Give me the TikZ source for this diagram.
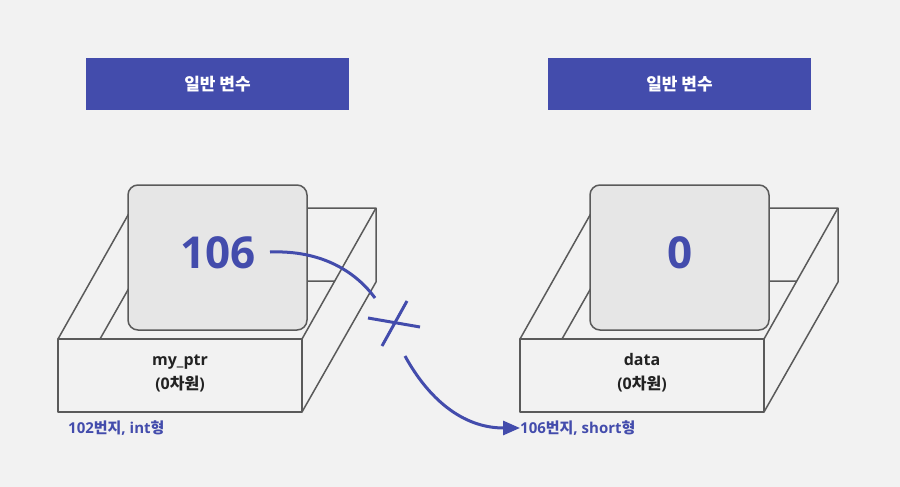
\documentclass[tikz,border=0pt]{standalone}
\usepackage{fontspec}
\setmainfont{Open Sans}
\newfontfamily\krfont{Noto Sans CJK KR}
\newcommand\kor[1]{{\krfont #1}}
\usetikzlibrary{arrows.meta}
\definecolor{bg}{HTML}{F2F2F2}
\definecolor{navy}{HTML}{434CAC}
\definecolor{edge}{HTML}{5A5A5A}
\definecolor{card}{HTML}{E6E6E6}
\definecolor{dark}{HTML}{222222}
\tikzset{
  boxline/.style={draw=edge, line width=1.5pt, line join=round},
  headbox/.style={fill=navy, minimum width=263pt, minimum height=52pt, inner sep=0pt, text=white, font=\bfseries\fontsize{17}{20}\selectfont},
  valcard/.style={boxline, fill=card, rounded corners=10pt},
  valtext/.style={text=navy, font=\bfseries\fontsize{44}{50}\selectfont, inner sep=0pt},
  vartext/.style={text=dark, font=\bfseries\fontsize{16}{24}\selectfont, align=center, inner sep=0pt},
  addrtext/.style={text=navy, font=\bfseries\fontsize{15}{18}\selectfont, inner sep=0pt, anchor=west},
  linkline/.style={draw=navy, line width=3pt},
}
\begin{document}
\begin{tikzpicture}[x=1pt,y=-1pt]
\fill[bg] (0,0) rectangle (900,487);
\useasboundingbox (0,0) rectangle (900,487);
% headers
\node[headbox] (h1) at (217.5,84) {\kor{일반 변수}};
\node[headbox] (h2) at (679.5,84) {\kor{일반 변수}};
% boxes
\foreach \X in {0,462}{
  \begin{scope}[xshift=\X pt]
    \draw[boxline] (58,339) -- (132,208) -- (376,208) -- (302,339);
    \draw[boxline] (376,208) -- (376,282) -- (302,412);
    \draw[boxline] (100,339) -- (133,281) -- (335,281);
    \draw[boxline, fill=bg] (58,339) rectangle (302,412);
    \draw[valcard] (128,185) rectangle (307,330);
  \end{scope}
}
\node[valtext] (v1) at (218,253) {106};
\node[valtext] (v2) at (680,253) {0};
\node[vartext] (n1) at (180,373) {my\_ptr\\(0\kor{차원})};
\node[vartext] (n2) at (642,373) {data\\(0\kor{차원})};
\node[addrtext] (a1) at (68,428) {102\kor{번지}, int\kor{형}};
\node[addrtext] (a2) at (520,428) {106\kor{번지}, short\kor{형}};
% connector with cross
\coordinate (s) at (270,252);
\coordinate (g1) at (375,298);
\coordinate (g2) at (405,356);
\draw[linkline] (s) .. controls (322,250) and (356,272) .. (g1);
\draw[linkline, -{Triangle[length=17pt,width=14pt]}] (g2) .. controls (428,398) and (462,428) .. (a2.west);
\coordinate (c1) at (368,318);
\coordinate (c2) at (420,327);
\coordinate (c3) at (407,301);
\coordinate (c4) at (382,346);
\draw[linkline] (c1) -- (c2);
\draw[linkline] (c3) -- (c4);
\end{tikzpicture}
\end{document}
